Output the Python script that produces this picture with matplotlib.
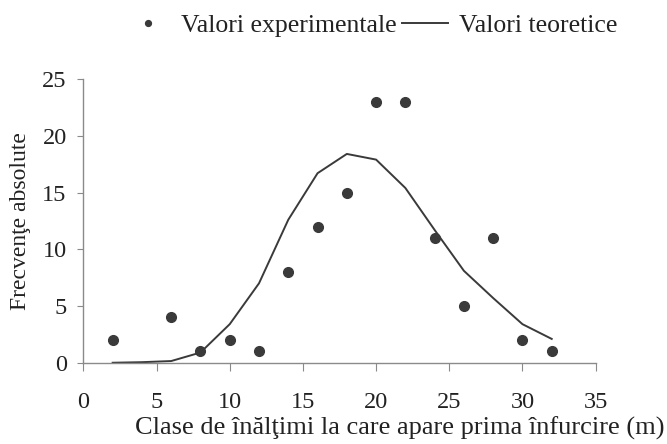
import matplotlib.pyplot as plt

plt.rcParams['font.family'] = ['Liberation Serif', 'DejaVu Serif']

# experimental values (points)
x_exp = [2, 6, 8, 10, 12, 14, 16, 18, 20, 22, 24, 26, 28, 30, 32]
y_exp = [2, 4, 1, 2, 1, 8, 12, 15, 23, 23, 11, 5, 11, 2, 1]

# theoretical values (line)
x_teo = [2, 4, 6, 8, 10, 12, 14, 16, 18, 20, 22, 24, 26, 28, 30, 32]
y_teo = [0.0, 0.05, 0.15, 0.9, 3.4, 7.0, 12.6, 16.7, 18.4, 17.9, 15.4, 11.7, 8.1, 5.7, 3.4, 2.1]

x_ticks = [0, 5, 10, 15, 20, 25, 30, 35]
y_ticks = [0, 5, 10, 15, 20, 25]

fig = plt.figure(figsize=(6.67, 4.44), dpi=100)
ax = fig.add_axes([0.125, 0.183, 0.768, 0.639])

ax.plot(x_teo, y_teo, color='#3a3a3a', linewidth=1.4, label='Valori teoretice')
ax.plot(x_exp, y_exp, 'o', color='#3a3a3a', markersize=7, label='Valori experimentale')

ax.set_xlim(0, 35)
ax.set_ylim(0, 25)
ax.set_xticks(x_ticks)
ax.set_yticks(y_ticks)

for s in ['top', 'right']:
    ax.spines[s].set_visible(False)
for s in ['left', 'bottom']:
    ax.spines[s].set_color('#8a8a8a')
    ax.spines[s].set_linewidth(1.0)

ax.tick_params(axis='x', direction='out', length=6, color='#8a8a8a', pad=15, labelsize=17.5, labelcolor='#222222')
ax.tick_params(axis='y', direction='out', length=4, color='#8a8a8a', pad=8, labelsize=17.5, labelcolor='#222222')

ax.set_ylabel('Frecvenţe absolute', fontsize=17, color='#222222', labelpad=8)
fig.text(0.997, 0.008, 'Clase de înălţimi la care apare prima înfurcire (m)',
         ha='right', va='bottom', fontsize=19, color='#222222')

h, l = ax.get_legend_handles_labels()
fig.legend([h[1], h[0]], [l[1], l[0]], loc='upper center', bbox_to_anchor=(0.556, 1.02),
           ncol=2, frameon=False, fontsize=18.5, handlelength=1.8, columnspacing=0.2,
           handletextpad=0.4, markerscale=0.6, labelcolor='#222222')

fig.savefig('out.png', dpi=100)
